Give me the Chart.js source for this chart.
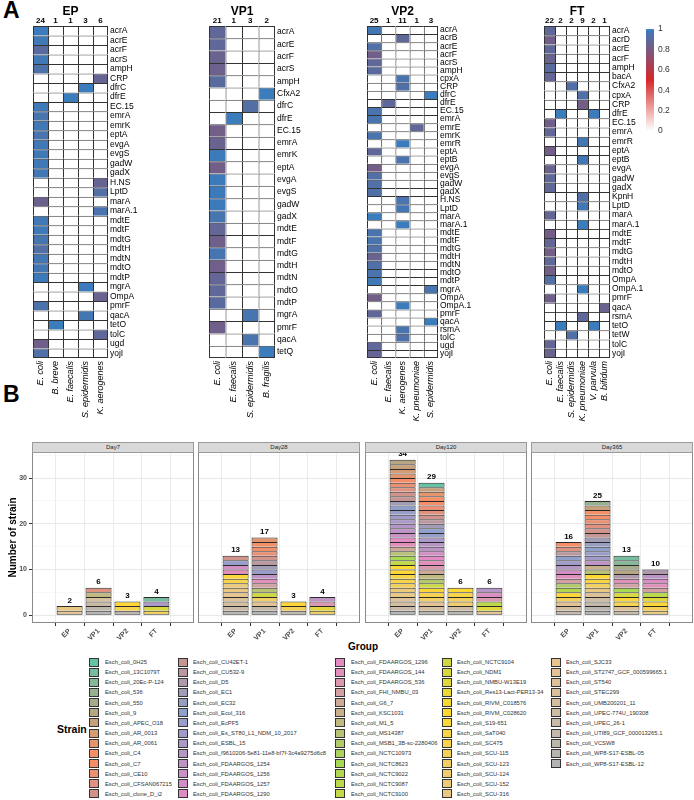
<!DOCTYPE html>
<html><head><meta charset="utf-8">
<script src="https://cdn.jsdelivr.net/npm/chart.js@4.4.1/dist/chart.umd.min.js"></script>
<style>
body{margin:0;background:#fff;width:694px;height:800px;position:relative;overflow:hidden;font-family:"Liberation Sans",Arial,sans-serif}
canvas{position:absolute}
.t{position:absolute;white-space:nowrap;color:#000}
.strip{position:absolute;box-sizing:border-box;background:#D9D9D9;border:1px solid #9a9a9a;font-size:6px;color:#1a1a1a;text-align:center;line-height:8px}
.sw{position:absolute;box-sizing:border-box;border:1px solid #333;width:10px;height:9px}
.lt{position:absolute;font-size:5.8px;color:#333;white-space:nowrap;line-height:8px}
</style></head><body>
<div class="t" style="left:3px;top:-3px;font-size:23px;font-weight:bold">A</div>
<div class="t" style="left:3px;top:381px;font-size:23px;font-weight:bold">B</div>
<div class="t" style="left:348px;top:641px;font-size:10px;font-weight:bold">Group</div>
<div class="t" style="left:57px;top:723px;font-size:10.5px;font-weight:bold">Strain</div>
<script>
Chart.defaults.font.family = "'Liberation Sans', Arial, sans-serif";
Chart.defaults.animation = false;

// ---------------- Panel A data ----------------
const EP_species = ["E. coli","B. breve","E. faecalis","S. epidermidis","K. aerogenes"];
const EP_counts = ["24","1","1","3","6"];
const EP_genes = ["acrA","acrE","acrF","acrS","ampH","CRP","dfrC","dfrE","EC.15","emrA","emrK","eptA","evgA","evgS","gadW","gadX","H.NS","LptD","marA","marA.1","mdtE","mdtF","mdtG","mdtH","mdtN","mdtO","mdtP","mgrA","OmpA","pmrF","qacA","tetO","tolC","ugd","yojI"];
const EP_values = [
 [1,0,0,0,0],[0.98,0,0,0,0],[0.9,0,0,0,0],[0.98,0,0,0,0],[0.94,0,0,0,0],
 [0,0,0,0,0.86],[0,0,0,1,0],[0,0,1,0,0],[0.98,0,0,0,0],[0.95,0,0,0,0],
 [0.98,0,0,0,0],[0.95,0,0,0,0],[0.98,0,0,0,0],[0.98,0,0,0,0],[0.98,0,0,0,0],
 [0.97,0,0,0,0],[0,0,0,0,0.86],[0,0,0,0,0.92],[0.84,0,0,0,0],[0,0,0,0,0.95],
 [0.98,0,0,0,0],[0.98,0,0,0,0],[0.96,0,0,0,0],[0.92,0,0,0,0],[0.97,0,0,0,0],
 [0.97,0,0,0,0],[0.99,0,0,0,0],[0,0,0,1,0],[0,0,0,0,0.85],[0.94,0,0,0,0],
 [0,0,0,0.97,0],[0,1,0,0,0],[0,0,0,0,0.88],[0.83,0,0,0,0],[0.93,0,0,0,0]];

const VP1_species = ["E. coli","E. faecalis","S. epidermidis","B. fragilis"];
const VP1_counts = ["21","1","3","2"];
const VP1_genes = ["acrA","acrE","acrF","acrS","ampH","CfxA2","dfrC","dfrE","EC.15","emrA","emrK","eptA","evgA","evgS","gadW","gadX","mdtE","mdtF","mdtG","mdtH","mdtN","mdtO","mdtP","mgrA","pmrF","qacA","tetQ"];
const VP1_values = [
 [0.88,0,0,0],[0.88,0,0,0],[0.85,0,0,0],[0.84,0,0,0],[0.9,0,0,0],
 [0,0,0,1],[0,0,0.92,0],[0,1,0,0],[0.82,0,0,0],[0.85,0,0,0],
 [0.99,0,0,0],[0.82,0,0,0],[0.99,0,0,0],[0.99,0,0,0],[0.99,0,0,0],
 [0.96,0,0,0],[0.87,0,0,0],[0.83,0,0,0],[0.96,0,0,0],[0.83,0,0,0],
 [0.87,0,0,0],[0.88,0,0,0],[0.9,0,0,0],[0,0,0.96,0],[0.83,0,0,0],
 [0,0,0.95,0],[0,0,0,1]];

const VP2_species = ["E. coli","E. faecalis","K. aerogenes","K. pneumoniae","S. epidermidis"];
const VP2_counts = ["25","1","11","1","3"];
const VP2_genes = ["acrA","acrB","acrE","acrF","acrS","ampH","cpxA","CRP","dfrC","dfrE","EC.15","emrA","emrE","emrK","emrR","eptA","eptB","evgA","evgS","gadW","gadX","H.NS","LptD","marA","marA.1","mdtE","mdtF","mdtG","mdtH","mdtN","mdtO","mdtP","mgrA","OmpA","OmpA.1","pmrF","qacA","rsmA","tolC","ugd","yojI"];
const VP2_values = [
 [0.97,0,0,0,0],[0,0,0.88,0,0],[0.93,0,0,0,0],[0.83,0,0,0,0],[0.88,0,0,0,0],
 [0.9,0,0,0,0],[0,0,0.95,0,0],[0,0,0.93,0,0],[0,0,0,0,1],[0,0.88,0,0,0],
 [0.95,0,0,0,0],[0.95,0,0,0,0],[0,0,0,0.88,0],[0.95,0,0,0,0],[0,0,1,0,0],
 [0.88,0,0,0,0],[0,0,0.95,0,0],[0.82,0,0,0,0],[0.92,0,0,0,0],[0.93,0,0,0,0],
 [0.93,0,0,0,0],[0,0,0.95,0,0],[0,0,0.97,0,0],[1,0,0,0,0],[0,0,1,0,0],
 [0.95,0,0,0,0],[0.95,0,0,0,0],[0.93,0,0,0,0],[0.85,0,0,0,0],[0.93,0,0,0,0],
 [0.95,0,0,0,0],[0.98,0,0,0,0],[0,0,0,0,0.95],[0.82,0,0,0,0],[0,0,1,0,0],
 [0.88,0,0,0,0],[0,0,0,0,1],[0,0,0.95,0,0],[0,0,0.93,0,0],[0.88,0,0,0,0],[0.87,0,0,0,0]];

const FT_species = ["E. coli","E. faecalis","S. epidermidis","K. pneumoniae","V. parvula","B. bifidum"];
const FT_counts = ["22","2","2","9","2","1"];
const FT_genes = ["acrA","acrD","acrE","acrF","ampH","bacA","CfxA2","cpxA","CRP","dfrE","EC.15","emrA","emrR","eptA","eptB","evgA","gadW","gadX","KpnH","LptD","marA","marA.1","mdtE","mdtF","mdtG","mdtH","mdtO","OmpA","OmpA.1","pmrF","qacA","rsmA","tetO","tetW","tolC","yojI"];
const FT_values = [
 [0.88,0,0,0,0,0],[0.83,0,0,0,0,0],[0.88,0,0,0,0,0],[0.85,0,0,0,0,0],[0.9,0,0,0,0,0],
 [0.87,0,0,0,0,0],[0,0,0.93,0,0,0],[0,0,0,0.93,0,0],[0,0,0,0.82,0,0],[0,1,0,0,1,0],
 [0.83,0,0,0,0,0],[0.87,0,0,0,0,0],[0,0,0,0.97,0,0],[0.82,0,0,0,0,0],[0,0,0,0.97,0,0],
 [0.85,0,0,0,0,0],[0.88,0,0,0,0,0],[0.88,0,0,0,0,0],[0,0,0,0.93,0,0],[0,0,0,0.97,0,0],
 [0.87,0,0,0,0,0],[0,0,0,1,0,0],[0.82,0,0,0,0,0],[0.87,0,0,0,0,0],[0.82,0,0,0,0,0],
 [0.88,0,0,0,0,0],[0.82,0,0,0,0,0],[0.92,0,0,0,0,0],[0,0,0,1,0,0],[0.83,0,0,0,0,0],
 [0,0,0,0,0,0.85],[0,0,0,0.88,0,0],[0,1,0,0,1,0],[0,0,0.93,0,0,0],[0.87,0,0,0,0,0],[0.85,0,0,0,0,0]];

const colorbarTicks = [0, 0.2, 0.4, 0.6, 0.8, 1];

// ---------------- Panel B data ----------------
const groups = ["EP","VP1","VP2","FT"];
const days = ["Day7","Day28","Day120","Day365"];
const strains = ["0H25","13C1079T","20Ec-P-124","536","550","9","APEC_O18","AR_0013","AR_0061","C4","C7","CE10","CFSAN067215","clone_D_i2","CU42ET-1","CU532-9","D5","EC1","EC32","Ecol_316","EcPF5","Es_ST80_L1_NDM_10_2017","ESBL_15","f9610206-5e81-11e8-bf7f-3c4a9275d6c8","FDAARGOS_1254","FDAARGOS_1256","FDAARGOS_1257","FDAARGOS_1290","FDAARGOS_1296","FDAARGOS_144","FDAARGOS_536","FHI_NMBU_03","G6_7","KSC1031","M1_5","MS14387","MSB1_3B-sc-2280406","NCTC10973","NCTC8623","NCTC9022","NCTC9087","NCTC9100","NCTC9104","NDM1","NMBU-W13E19","Res13-Lact-PER13-34","RIVM_C018576","RIVM_C028620","S19-651","SaT040","SC475","SCU-115","SCU-123","SCU-124","SCU-152","SCU-316","SJC33","ST2747_GCF_000599665.1","ST540","STEC299","UMB200201_11","UPEC-774U_190308","UPEC_26-1","UTI89_GCF_000013265.1","VCSW8","WP8-S17-ESBL-05","WP8-S17-ESBL-12"];
// strain indices (into strains) present in each bar, one strain = 1
const d7_EP = [55,56];
const d7_VP1 = [12,34,59,62,64,66];
const d7_VP2 = [48,50,65];
const d7_FT = [1,22,43,50];
const d28_EP = [13,20,26,29,48,50,54,55,56,58,60,62,65];
const d28_VP1 = [8,9,10,11,13,15,17,20,24,29,31,35,42,52,57,63,66];
const d28_VP2 = [48,51,64];
const d28_FT = [24,30,44,51];
const d120_EP = [5,6,7,8,10,11,12,13,14,17,19,20,21,22,23,24,25,28,29,32,35,38,41,47,48,49,50,51,54,55,58,60,62,66];
const d120_VP1 = [0,6,8,9,10,11,12,13,15,17,19,20,22,23,24,26,28,29,30,32,34,36,42,48,50,52,57,60,65];
const d120_VP2 = [47,49,51,53,61,65];
const d120_FT = [23,27,30,40,44,56];
const d365_EP = [10,12,15,19,21,23,26,29,31,36,39,48,51,57,60,63];
const d365_VP1 = [3,6,9,10,11,12,13,14,17,18,19,20,21,24,33,35,47,49,51,55,58,61,63,65,66];
const d365_VP2 = [1,2,4,5,16,29,31,38,43,48,50,58,62];
const d365_FT = [16,24,27,29,31,40,44,48,51,54];
const yTicks = [0,10,20,30];

// ---------------- helpers ----------------
function heatColor(v){
  if(!v) return '#FFFFFF';
  const lo=[255,255,255], mid=[214,40,40], hi=[58,124,188];
  let c;
  if(v<=0.5){const f=v/0.5; c=lo.map((a,j)=>a+(mid[j]-a)*f);}
  else {const f=(v-0.5)/0.5; c=mid.map((a,j)=>a+(hi[j]-a)*f);}
  return 'rgb('+c.map(Math.round).join(',')+')';
}
const SET2 = ["#66C2A5","#FC8D62","#8DA0CB","#E78AC3","#A6D854","#FFD92F","#E5C494","#B3B3B3"];
function ramp(cols,n){
  const rgb=cols.map(h=>[parseInt(h.slice(1,3),16),parseInt(h.slice(3,5),16),parseInt(h.slice(5,7),16)]);
  const out=[];
  for(let i=0;i<n;i++){
    const t=i/(n-1)*(cols.length-1);
    const k=Math.min(Math.floor(t),cols.length-2), f=t-k;
    const c=rgb[k].map((v,j)=>Math.round(v+(rgb[k+1][j]-v)*f));
    out.push('rgb('+c.join(',')+')');
  }
  return out;
}
const pal = ramp(SET2, strains.length);
const FF = "'Liberation Sans', Arial, sans-serif";

function mkCanvas(left,top,w,h){
  const c=document.createElement('canvas');
  c.width=w;c.height=h;c.style.left=left+'px';c.style.top=top+'px';c.style.width=w+'px';c.style.height=h+'px';
  document.body.appendChild(c);return c;
}

// ---------------- heatmaps ----------------
function heat(o){
  const cv=mkCanvas(o.left,0,o.width,440);
  const nR=o.genes.length,nC=o.species.length;
  const datasets=o.genes.map((g,r)=>({
    label:g,
    data:o.species.map(()=>1),
    backgroundColor:o.species.map((s,c)=>heatColor(o.values[r][c])),
    borderColor:'#333',
    borderWidth:(ctx)=>({top:1,left:1,right:ctx.dataIndex===nC-1?1:0,bottom:r===nR-1?1:0}),
    borderSkipped:false,
    barPercentage:1,categoryPercentage:1,inflateAmount:0
  }));
  const head={id:'head',afterDraw(chart){
    const ctx=chart.ctx,x=chart.scales.x,a=chart.chartArea;
    ctx.save();ctx.fillStyle='#000';ctx.textAlign='center';ctx.textBaseline='alphabetic';
    ctx.font="bold 8px "+FF;
    o.counts.forEach((c,i)=>ctx.fillText(c,x.getPixelForValue(i),a.top-3.5));
    ctx.font="bold 12px "+FF;
    ctx.fillText(o.title,(a.left+a.right)/2,14.5);
    ctx.restore();}};
  new Chart(cv,{type:'bar',data:{labels:o.species,datasets},plugins:[head],
    options:{responsive:false,events:[],
      layout:{padding:{left:o.areaL-o.left,right:0,top:26,bottom:0}},
      plugins:{legend:{display:false},tooltip:{enabled:false}},
      scales:{
        x:{type:'category',position:'bottom',stacked:true,offset:true,grid:{display:false,drawTicks:false},border:{display:false},
           ticks:{font:{size:9,style:'italic'},color:'#000',minRotation:90,maxRotation:90,padding:3,autoSkip:false},
           afterFit:s=>{s.height=440-358;}},
        y:{type:'linear',position:'right',reverse:true,stacked:true,min:0,max:nR,grid:{display:false,drawTicks:false},border:{display:false},
           afterBuildTicks:s=>{s.ticks=o.genes.map((g,i)=>({value:i+0.5}));},
           ticks:{autoSkip:false,callback:(v,i)=>o.genes[i],font:{size:8.5},color:'#000',padding:2},
           afterFit:s=>{s.width=o.left+o.width-o.areaR;}}
      }}});
}
heat({left:0,width:180,areaL:33,areaR:108,title:'EP',species:EP_species,counts:EP_counts,genes:EP_genes,values:EP_values});
heat({left:180,width:165,areaL:209,areaR:275,title:'VP1',species:VP1_species,counts:VP1_counts,genes:VP1_genes,values:VP1_values});
heat({left:340,width:180,areaL:367,areaR:438,title:'VP2',species:VP2_species,counts:VP2_counts,genes:VP2_genes,values:VP2_values});
heat({left:520,width:126,areaL:544,areaR:610,title:'FT',species:FT_species,counts:FT_counts,genes:FT_genes,values:FT_values});

// colour bar
(function(){
  const cv=mkCanvas(646,20,48,120);
  new Chart(cv,{type:'bar',data:{labels:[''],datasets:[{data:[1],borderWidth:0,barPercentage:1,categoryPercentage:1,inflateAmount:0,
    backgroundColor:(ctx)=>{const a=ctx.chart.chartArea;if(!a)return '#fff';const g=ctx.chart.ctx.createLinearGradient(0,a.bottom,0,a.top);
      for(let k=0;k<=20;k++)g.addColorStop(k/20,heatColor(k/20||0.0001));return g;}}]},
    options:{responsive:false,events:[],layout:{padding:{top:5,bottom:6,left:0,right:0}},
      plugins:{legend:{display:false},tooltip:{enabled:false}},
      scales:{x:{display:false},
        y:{position:'right',min:0,max:1,grid:{display:false,drawTicks:false},border:{display:false},
           afterBuildTicks:s=>{s.ticks=colorbarTicks.map(v=>({value:v}));},
           ticks:{font:{size:8.5},color:'#333',padding:4,callback:(v,i)=>String(colorbarTicks[i])},
           afterFit:s=>{s.width=40;}}}}});
})();

// ---------------- stacked bar facets ----------------
const facetLeft=[32,198,365,531], facetW=162, plotTop=452, plotBottom=623;
const facetLists=[[d7_EP,d7_VP1,d7_VP2,d7_FT],[d28_EP,d28_VP1,d28_VP2,d28_FT],[d120_EP,d120_VP1,d120_VP2,d120_FT],[d365_EP,d365_VP1,d365_VP2,d365_FT]];
function facet(fi){
  const lists=facetLists[fi];
  const cvLeft=fi===0?0:facetLeft[fi];
  const cvW=facetLeft[fi]+facetW-cvLeft+1, cvTop=440, cvH=215;
  const cv=mkCanvas(cvLeft,cvTop,cvW,cvH);
  const st=document.createElement('div');st.className='strip';
  st.style.left=facetLeft[fi]+'px';st.style.top='442px';st.style.width=facetW+'px';st.style.height='11px';
  st.textContent=days[fi];document.body.appendChild(st);
  const lowest=lists.map(l=>Math.max(...l));
  const datasets=[];
  for(let s=strains.length-1;s>=0;s--){
    const data=groups.map((g,gi)=>({x:gi+1,y:lists[gi].includes(s)?1:null}));
    if(data.every(d=>d.y===null))continue;
    datasets.push({label:'Esch_coli_'+strains[s],data,backgroundColor:pal[s],borderColor:'#2a2a2a',
      borderWidth:(ctx)=>({top:1,left:1,right:1,bottom:lowest[ctx.dataIndex]===s?1:0}),
      borderSkipped:false,barPercentage:0.9,categoryPercentage:1,inflateAmount:0});
  }
  const tot={id:'tot',afterDatasetsDraw(chart){
    const {ctx,scales:{x,y}}=chart;ctx.save();ctx.font="bold 8px "+FF;ctx.fillStyle='#000';
    ctx.textAlign='center';ctx.textBaseline='bottom';
    lists.forEach((l,gi)=>ctx.fillText(String(l.length),x.getPixelForValue(gi+1),y.getPixelForValue(l.length)-1.5));
    ctx.restore();}};
  const frame={id:'frame',afterDraw(chart){const a=chart.chartArea,ctx=chart.ctx;ctx.save();ctx.strokeStyle='#8a8a8a';ctx.lineWidth=1;
    ctx.strokeRect(Math.round(a.left)+0.5,Math.round(a.top)+0.5,Math.round(a.right-a.left)-1,Math.round(a.bottom-a.top)-1);ctx.restore();}};
  new Chart(cv,{type:'bar',data:{datasets},plugins:[tot,frame],
    options:{responsive:false,events:[],
      layout:{padding:{left:0,right:1,top:plotTop-cvTop,bottom:0}},
      plugins:{legend:{display:false},tooltip:{enabled:false}},
      scales:{
        x:{type:'linear',stacked:true,min:0.4,max:4.6,border:{display:false},
           grid:{color:'#EBEBEB',lineWidth:1,tickLength:3,tickColor:'#333'},
           afterBuildTicks:s=>{s.ticks=groups.map((g,i)=>({value:i+1}));},
           ticks:{autoSkip:false,minRotation:45,maxRotation:45,padding:1,font:{size:7,weight:'bold'},color:'#4d4d4d',callback:(v,i)=>groups[i]},
           afterFit:s=>{s.height=cvTop+cvH-plotBottom;}},
        y:{type:'linear',stacked:true,min:-1.7,max:35.7,border:{display:false},
           grid:{color:(c)=>c.tick&&c.tick.value%10===0?'#E8E8E8':'#F4F4F4',lineWidth:(c)=>c.tick&&c.tick.value%10===0?1:0.6,
                 drawTicks:fi===0,tickLength:3,tickColor:(c)=>c.tick&&c.tick.value%10===0?'#333':'rgba(0,0,0,0)'},
           afterBuildTicks:s=>{s.ticks=[0,5,10,15,20,25,30,35].map(v=>({value:v}));},
           ticks:{display:fi===0,autoSkip:false,padding:2,font:{size:7,weight:'bold'},color:'#4d4d4d',callback:(v)=>yTicks.includes(v)?String(v):''},
           title:{display:fi===0,text:'Number of strain',font:{size:10,weight:'bold'},color:'#000',padding:{top:7,bottom:0}},
           afterFit:s=>{s.width=fi===0?32:0;}}
      }}});
}
for(let i=0;i<4;i++)facet(i);

// ---------------- strain legend ----------------
const swX=[89,178,335,442,551], txX=[105,193,351,457,566];
strains.forEach((s,i)=>{
  const col=Math.floor(i/14),row=i%14,cy=662+row*10.15;
  const sw=document.createElement('div');sw.className='sw';sw.style.left=swX[col]+'px';sw.style.top=(cy-4.5)+'px';sw.style.background=pal[i];
  document.body.appendChild(sw);
  const t=document.createElement('div');t.className='lt';t.style.left=txX[col]+'px';t.style.top=(cy-4)+'px';t.textContent='Esch_coli_'+s;
  document.body.appendChild(t);
});
</script>
</body></html>
